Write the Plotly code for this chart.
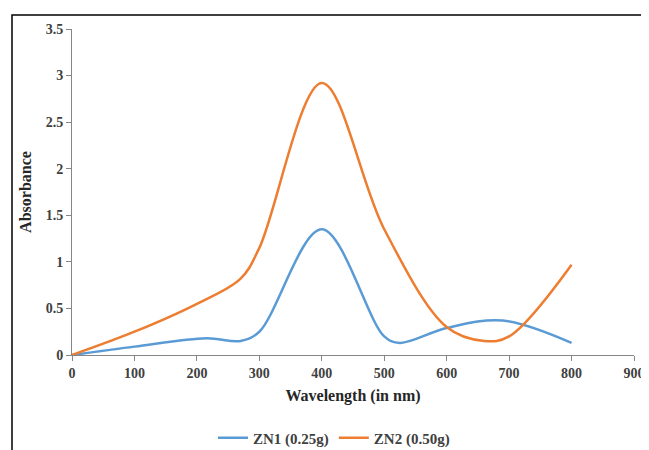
import plotly.graph_objects as go

# Data
zn1_wavelength = [0, 100, 215, 270, 300, 400, 500, 525, 600, 690, 800]
zn1_absorbance = [0, 0.09, 0.18, 0.15, 0.25, 1.35, 0.2, 0.13, 0.29, 0.37, 0.13]

zn2_wavelength = [0, 100, 200, 270, 300, 400, 500, 600, 660, 700, 800]
zn2_absorbance = [0, 0.25, 0.55, 0.82, 1.15, 2.92, 1.35, 0.3, 0.15, 0.2, 0.97]

x_ticks = [0, 100, 200, 300, 400, 500, 600, 700, 800, 900]
y_ticks = [0, 0.5, 1, 1.5, 2, 2.5, 3, 3.5]
y_tick_labels = ["0", "0.5", "1", "1.5", "2", "2.5", "3", "3.5"]

font_family = "Liberation Serif, Times New Roman, serif"

fig = go.Figure()
fig.add_trace(go.Scatter(
    x=zn1_wavelength, y=zn1_absorbance, mode="lines", name="ZN1 (0.25g)",
    line=dict(color="#5B9BD5", width=2.5, shape="spline", smoothing=1.0),
))
fig.add_trace(go.Scatter(
    x=zn2_wavelength, y=zn2_absorbance, mode="lines", name="ZN2 (0.50g)",
    line=dict(color="#ED7D31", width=2.5, shape="spline", smoothing=1.0),
))

# page body has an 8px margin, so figure coords = window coords - 8
OFF = 8
W, H = 649 - OFF, 450 - OFF
ml, mr, mt, mb = 72 - OFF, W - (634 - OFF), 29 - OFF, H - (355 - OFF)
pw, ph = W - ml - mr, H - mt - mb

def px_to_paper_x(px):
    return (px - OFF - ml) / pw

def px_to_paper_y(py):
    return (H - mb - (py - OFF)) / ph

fig.add_shape(type="rect", xref="paper", yref="paper",
              x0=px_to_paper_x(12), x1=px_to_paper_x(720),
              y0=px_to_paper_y(520), y1=px_to_paper_y(15),
              line=dict(color="black", width=1.5), fillcolor="rgba(0,0,0,0)",
              layer="below")

tick_font = dict(family=font_family, size=14, color="#404040", weight="bold")
title_font = dict(family=font_family, size=16, color="#262626", weight="bold")

fig.update_layout(
    width=W, height=H,
    margin=dict(l=ml, r=mr, t=mt, b=mb, autoexpand=False),
    paper_bgcolor="white", plot_bgcolor="white",
    font=dict(family=font_family, size=12, color="#333333"),
    showlegend=True,
    legend=dict(orientation="h", x=px_to_paper_x(334), xanchor="center", y=px_to_paper_y(438), yanchor="middle",
                font=dict(family=font_family, size=15, color="#404040", weight="bold"),
                tracegroupgap=0),
    xaxis=dict(
        range=[0, 900], tickvals=x_ticks, ticktext=[str(v) for v in x_ticks],
        showgrid=False, zeroline=False, showline=True, linecolor="#868686", linewidth=1,
        ticks="outside", ticklen=5, tickcolor="#868686", automargin=False,
        tickfont=tick_font,
        title=dict(text="Wavelength (in nm)", font=title_font, standoff=10),
    ),
    yaxis=dict(
        range=[0, 3.5], tickvals=y_ticks, ticktext=y_tick_labels,
        showgrid=False, zeroline=False, showline=True, linecolor="#868686", linewidth=1,
        ticks="outside", ticklen=5, tickcolor="#868686", automargin=False,
        tickfont=tick_font,
        title=dict(text="Absorbance", font=title_font, standoff=10),
    ),
)

fig.write_html("out.html")
